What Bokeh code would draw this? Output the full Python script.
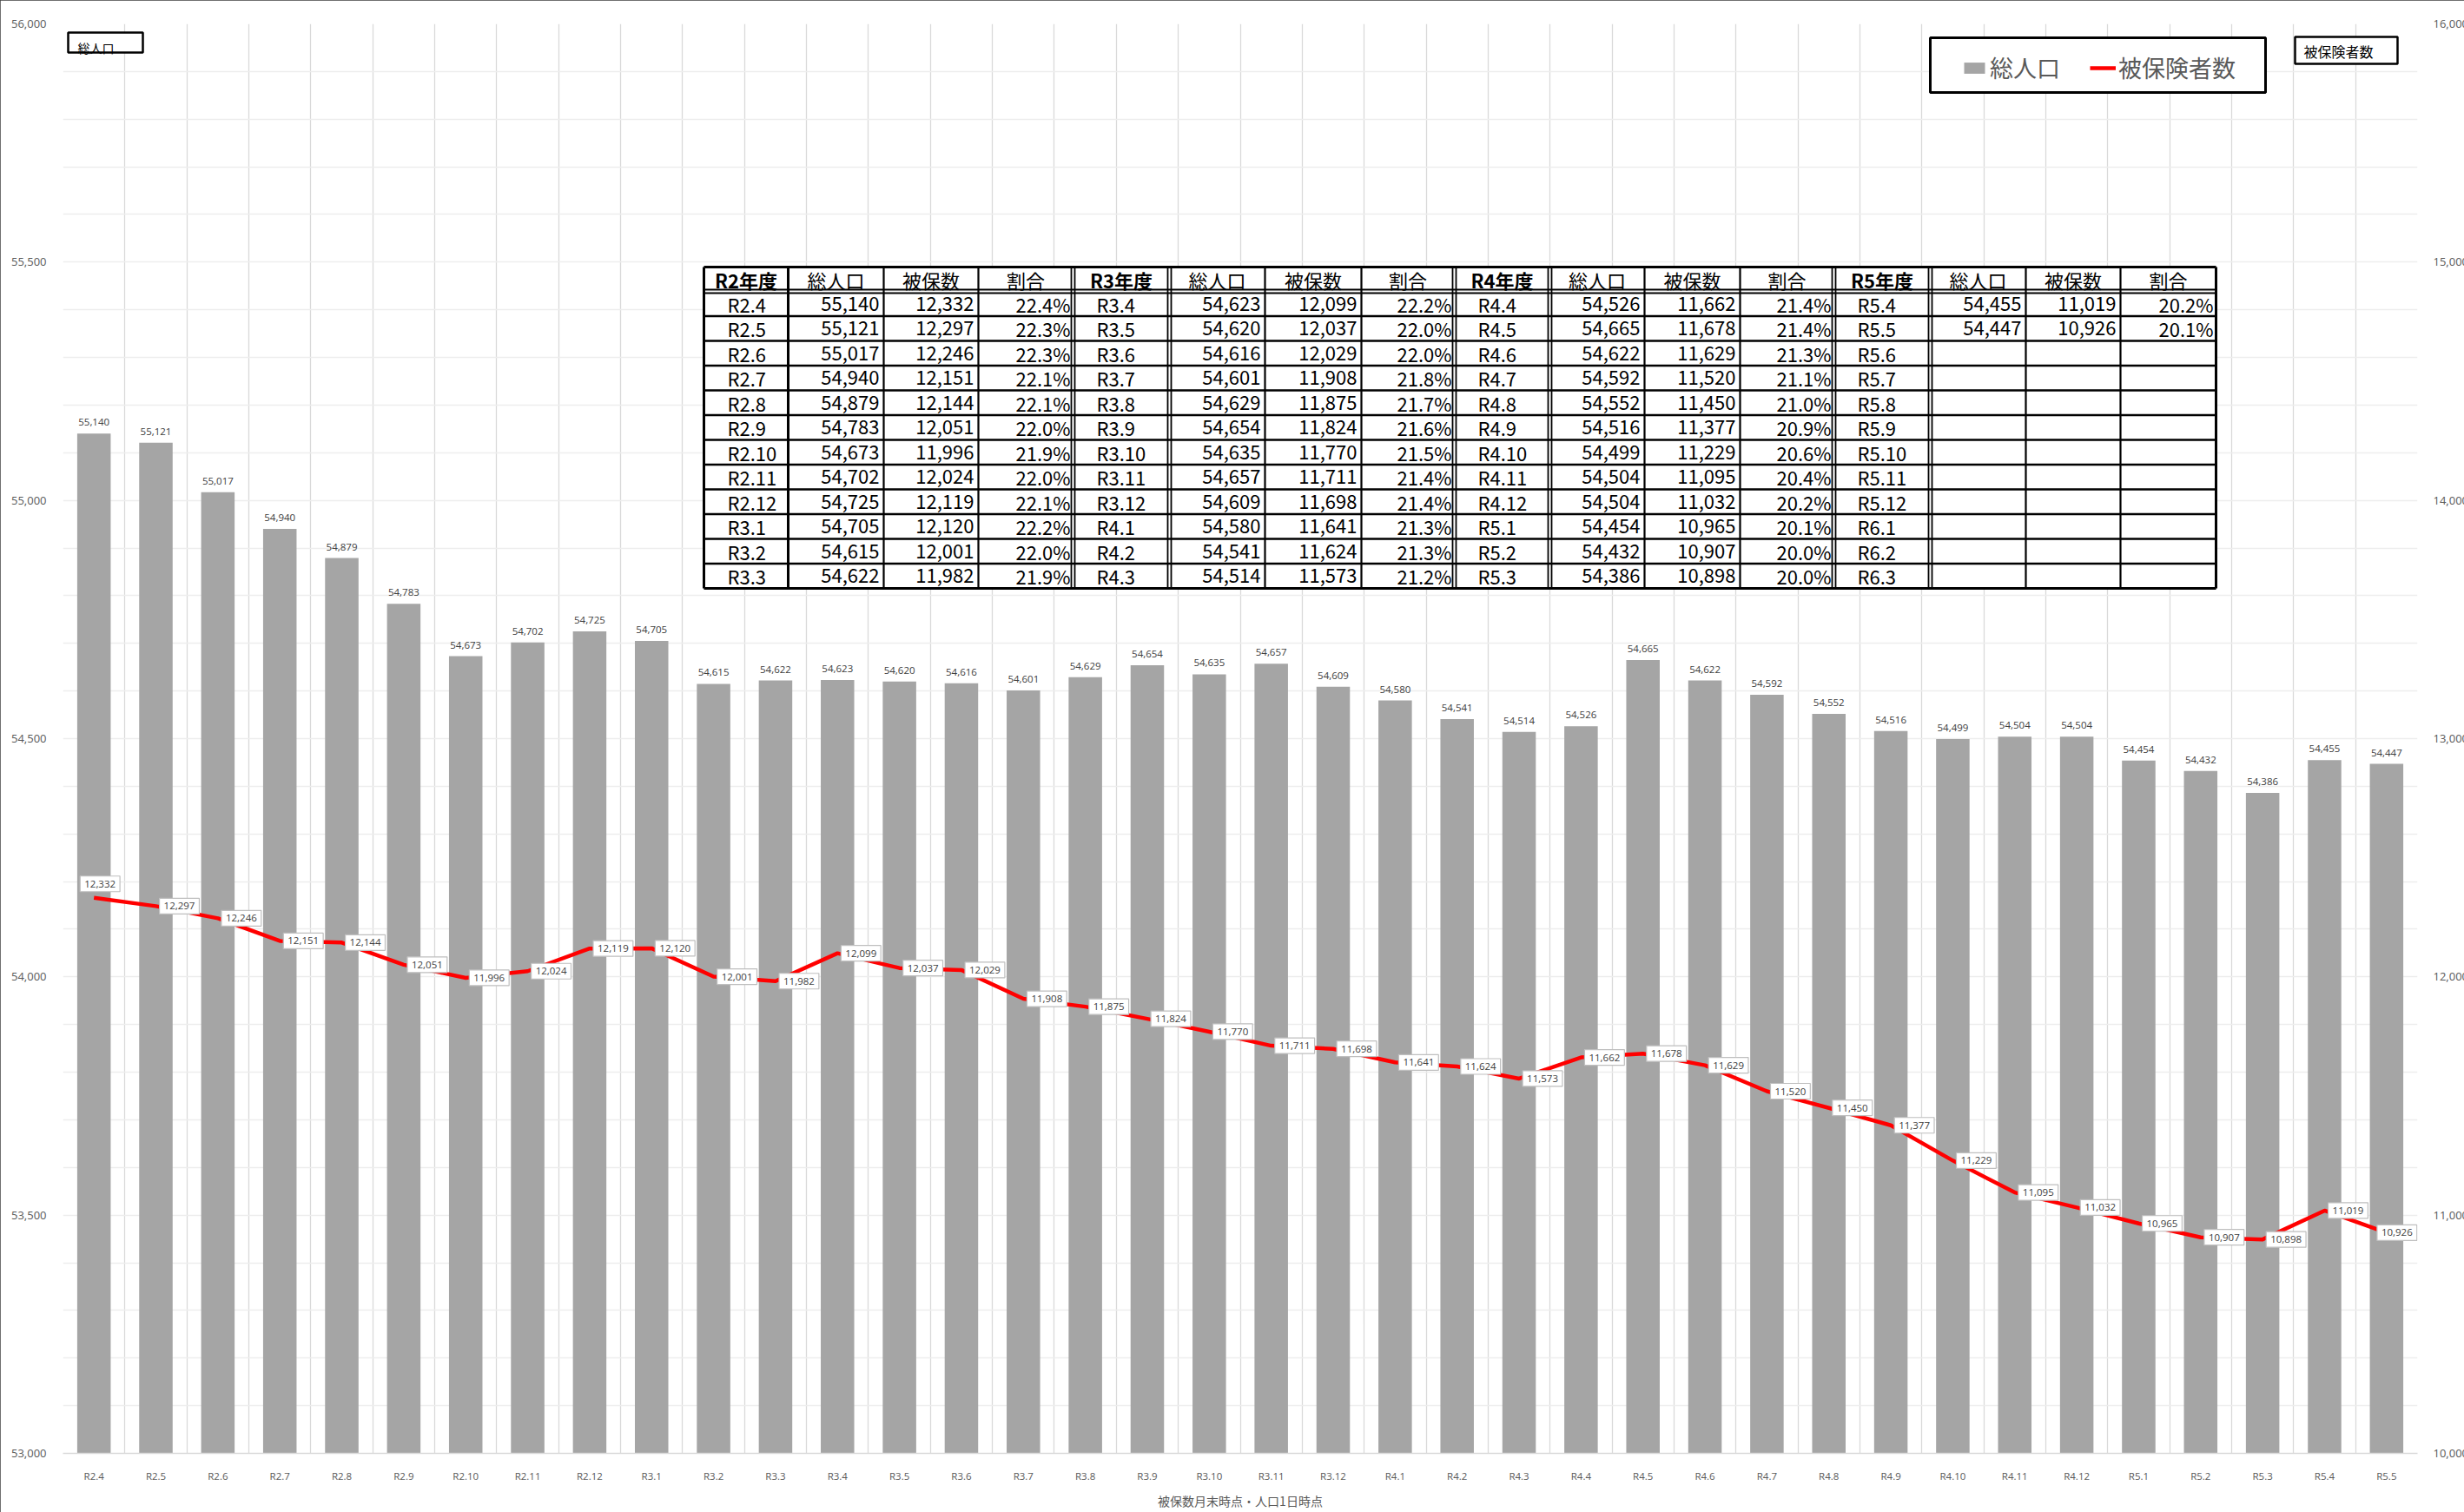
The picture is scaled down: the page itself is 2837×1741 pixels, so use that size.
from bokeh.plotting import figure
from bokeh.models import (ColumnDataSource, LinearAxis, Range1d, FactorRange, Legend, LegendItem,
                          NumeralTickFormatter, SingleIntervalTicker, FixedTicker)
from bokeh.core.properties import value
from bokeh.embed import file_html
from bokeh.resources import INLINE

# ---------------- data ----------------
categories = ["R2.4", "R2.5", "R2.6", "R2.7", "R2.8", "R2.9", "R2.10", "R2.11", "R2.12", "R3.1", "R3.2", "R3.3",
              "R3.4", "R3.5", "R3.6", "R3.7", "R3.8", "R3.9", "R3.10", "R3.11", "R3.12", "R4.1", "R4.2", "R4.3",
              "R4.4", "R4.5", "R4.6", "R4.7", "R4.8", "R4.9", "R4.10", "R4.11", "R4.12", "R5.1", "R5.2", "R5.3",
              "R5.4", "R5.5"]
population = [55140, 55121, 55017, 54940, 54879, 54783, 54673, 54702, 54725, 54705, 54615, 54622,
              54623, 54620, 54616, 54601, 54629, 54654, 54635, 54657, 54609, 54580, 54541, 54514,
              54526, 54665, 54622, 54592, 54552, 54516, 54499, 54504, 54504, 54454, 54432, 54386,
              54455, 54447]
insured = [12332, 12297, 12246, 12151, 12144, 12051, 11996, 12024, 12119, 12120, 12001, 11982,
           12099, 12037, 12029, 11908, 11875, 11824, 11770, 11711, 11698, 11641, 11624, 11573,
           11662, 11678, 11629, 11520, 11450, 11377, 11229, 11095, 11032, 10965, 10907, 10898,
           11019, 10926]
table_extra_months = ["R5.6", "R5.7", "R5.8", "R5.9", "R5.10", "R5.11", "R5.12", "R6.1", "R6.2", "R6.3"]
fiscal_years = ["R2年度", "R3年度", "R4年度", "R5年度"]
table_columns = ["総人口", "被保数", "割合"]
legend_labels = ["総人口", "被保険者数"]
x_title = "被保数月末時点・人口1日時点"
left_box_title = "総人口"
right_box_title = "被保険者数"

# ---------------- layout constants (page pixels) ----------------
FW, FH = 2711, 1646
FL, FB = 72, 1673
NCAT = len(categories)


def X(px):
    # page pixel -> synthetic coordinate on the categorical x range
    return (px - FL) * NCAT / FW


def Y(py):
    return FB - py


JP = "Noto Sans CJK JP"
NUM = "Open Sans"

p = figure(x_range=FactorRange(factors=categories), y_range=Range1d(53000, 56000),
           frame_width=FW, frame_height=FH, output_backend="svg", toolbar_location=None,
           min_border_left=72, min_border_right=54, min_border_top=27, min_border_bottom=68,
           background_fill_color="white", border_fill_color="white")
p.outline_line_color = None
p.styles = {"outline": "2px solid #404040", "outline-offset": "-2px"}
p.extra_y_ranges = {"ins": Range1d(10000, 16000), "py": Range1d(0, FH)}

# grids
p.xgrid.ticker = FixedTicker(ticks=list(range(1, NCAT + 1)))
p.xgrid.grid_line_color = "#D9D9D9"
p.xgrid.grid_line_width = 1.3
p.ygrid.ticker = SingleIntervalTicker(interval=100)
p.ygrid.grid_line_color = "#EDEDED"
p.ygrid.grid_line_width = 1.3

# axes
p.yaxis.ticker = SingleIntervalTicker(interval=500)
p.yaxis.formatter = NumeralTickFormatter(format="0,0")
for ax in [p.yaxis[0]]:
    ax.axis_line_color = None
    ax.major_tick_line_color = None
    ax.minor_tick_line_color = None
    ax.major_label_text_font = NUM
    ax.major_label_text_font_size = "13px"
    ax.major_label_text_color = "#595959"
    ax.major_label_standoff = 13

rax = LinearAxis(y_range_name="ins", ticker=SingleIntervalTicker(interval=1000),
                 formatter=NumeralTickFormatter(format="0,0"))
rax.axis_line_color = None
rax.major_tick_line_color = None
rax.minor_tick_line_color = None
rax.major_label_text_font = NUM
rax.major_label_text_font_size = "13px"
rax.major_label_text_color = "#595959"
rax.major_label_standoff = 12
p.add_layout(rax, "right")

xa = p.xaxis[0]
xa.axis_line_color = "#D9D9D9"
xa.axis_line_width = 1.5
xa.major_tick_line_color = None
xa.minor_tick_line_color = None
xa.major_label_text_font = NUM
xa.major_label_text_font_size = "11.5px"
xa.major_label_text_color = "#595959"
xa.major_label_standoff = 12
xa.axis_label = x_title
xa.axis_label_text_font = JP
xa.axis_label_text_font_size = "14px"
xa.axis_label_text_font_style = "normal"
xa.axis_label_text_color = "#595959"
xa.axis_label_standoff = 8

# ---------------- series ----------------
# label placement (screen px): first label above the point, the others to its right
lx = [7] + [27] * (len(insured) - 2) + [12]
ly = [-16] + [0] * (len(insured) - 1)
src = ColumnDataSource(dict(
    cat=categories, pop=population, ins=insured,
    pop_lbl=[f"{v:,}" for v in population],
    ins_lbl=[f"{v:,}" for v in insured],
    lx=lx, ly=ly,
))

bars = p.vbar(x="cat", top="pop", bottom=53000, width=0.54, fill_color="#A5A5A5",
              line_color=None, source=src)
p.text(x="cat", y="pop", text="pop_lbl", y_offset=-13, text_align="center", text_baseline="middle",
       text_font=value(NUM), text_font_size="11.5px", text_color="#404040", source=src)

line = p.line(x="cat", y="ins", y_range_name="ins", line_color="#FF0000", line_width=4.5,
              line_join="round", source=src)
p.text(x="cat", y="ins", y_range_name="ins", text="ins_lbl", x_offset="lx", y_offset="ly",
       text_align="center", text_baseline="middle", text_font=value(NUM), text_font_size="11.5px",
       text_color="#404040", background_fill_color="white", border_line_color="#BFBFBF",
       border_line_width=1.2, padding=5, source=src)

# ---------------- table ----------------
cb = [810, 907, 1017, 1126, 1235, 1346, 1456, 1567, 1674, 1784, 1893, 2003, 2111, 2222, 2332, 2441, 2551]
t_top, t_head, row_h = 307, 335, 28.5
t_bot = t_head + 12 * row_h

p.quad(left=X(cb[0]), right=X(cb[-1]), top=Y(t_top), bottom=Y(t_bot), y_range_name="py",
       fill_color="white", line_color=None)

hs = dict(x0=[], y0=[], x1=[], y1=[], w=[])
for k in range(1, 12):
    yy = Y(t_head + k * row_h)
    hs["x0"].append(X(cb[0])); hs["x1"].append(X(cb[-1])); hs["y0"].append(yy); hs["y1"].append(yy); hs["w"].append(2.4)
for yy, w in [(Y(t_head) + 2, 2), (Y(t_head) - 2, 2), (Y(t_top), 3), (Y(t_bot), 3)]:
    hs["x0"].append(X(cb[0])); hs["x1"].append(X(cb[-1])); hs["y0"].append(yy); hs["y1"].append(yy); hs["w"].append(w)
double_idx = {4, 5, 8, 9, 12, 13}
for i, c in enumerate(cb):
    if i in double_idx:
        for d in (-2, 2):
            hs["x0"].append(X(c + d)); hs["x1"].append(X(c + d)); hs["y0"].append(Y(t_top)); hs["y1"].append(Y(t_bot)); hs["w"].append(1.8)
    else:
        w = 3 if i in (0, len(cb) - 1, 1) else 2.2
        hs["x0"].append(X(c)); hs["x1"].append(X(c)); hs["y0"].append(Y(t_top)); hs["y1"].append(Y(t_bot)); hs["w"].append(w)
p.segment(x0="x0", y0="y0", x1="x1", y1="y1", line_width="w", line_color="black",
          y_range_name="py", source=ColumnDataSource(hs))

all_months = categories + table_extra_months
hb = dict(x=[], y=[], t=[])
hn = dict(x=[], y=[], t=[])
ml = dict(x=[], y=[], t=[])
nr = dict(x=[], y=[], t=[])
for b in range(4):
    c0 = 4 * b
    hy = Y((t_top + t_head) / 2)
    hb["x"].append(X((cb[c0] + cb[c0 + 1]) / 2)); hb["y"].append(hy); hb["t"].append(fiscal_years[b])
    for j, h in enumerate(table_columns):
        hn["x"].append(X((cb[c0 + 1 + j] + cb[c0 + 2 + j]) / 2)); hn["y"].append(hy); hn["t"].append(h)
    for r in range(12):
        idx = 12 * b + r
        cy = Y(t_head + (r + 0.5) * row_h)
        ml["x"].append(X(cb[c0] + 27)); ml["y"].append(cy); ml["t"].append(all_months[idx])
        if idx < len(population):
            vals = [f"{population[idx]:,}", f"{insured[idx]:,}", f"{insured[idx] / population[idx] * 100:.1f}%"]
            for j, v in enumerate(vals):
                nr["x"].append(X(cb[c0 + 2 + j] - (3 if j == 2 else 5))); nr["y"].append(cy); nr["t"].append(v)

common = dict(x="x", y="y", text="t", y_range_name="py", text_baseline="middle",
              text_font_size="22px", text_color="black")
p.text(source=ColumnDataSource(hb), text_align="center", text_font=value(JP), text_font_style="bold", **common)
p.text(source=ColumnDataSource(hn), text_align="center", text_font=value(JP), **common)
p.text(source=ColumnDataSource(ml), text_align="left", text_font=value(JP), **common)
p.text(source=ColumnDataSource(nr), text_align="right", text_font=value(JP), **common)

# ---------------- title boxes ----------------
p.quad(left=[X(78), X(2642)], right=[X(164), X(2760)], top=[Y(37), Y(42)], bottom=[Y(60), Y(73)],
       y_range_name="py", fill_color="white", line_color="black", line_width=2.5)
p.text(x=[X(89)], y=[Y(54)], text=[left_box_title], y_range_name="py",
       text_align="left", text_baseline="middle", text_font=value(JP), text_font_size="14px", text_color="black")
p.text(x=[X(2652)], y=[Y(58)], text=[right_box_title], y_range_name="py",
       text_align="left", text_baseline="middle", text_font=value(JP), text_font_size="16px", text_color="black")

# ---------------- legend ----------------
p.quad(left=[X(2222)], right=[X(2608)], top=[Y(43)], bottom=[Y(106)], y_range_name="py",
       fill_color="white", line_color="black", line_width=3)
legend = Legend(items=[LegendItem(label=value(legend_labels[0]), renderers=[bars]),
                       LegendItem(label=value(legend_labels[1]), renderers=[line])],
                orientation="horizontal", location=(2258 - FL, FB - 97),
                border_line_color=None, background_fill_alpha=0, padding=0, margin=0,
                spacing=34, glyph_width=30, glyph_height=16, label_standoff=3,
                label_text_font=JP, label_text_font_size="27px", label_text_color="#595959")
p.add_layout(legend)

open("out.html", "w").write(file_html(p, INLINE))
